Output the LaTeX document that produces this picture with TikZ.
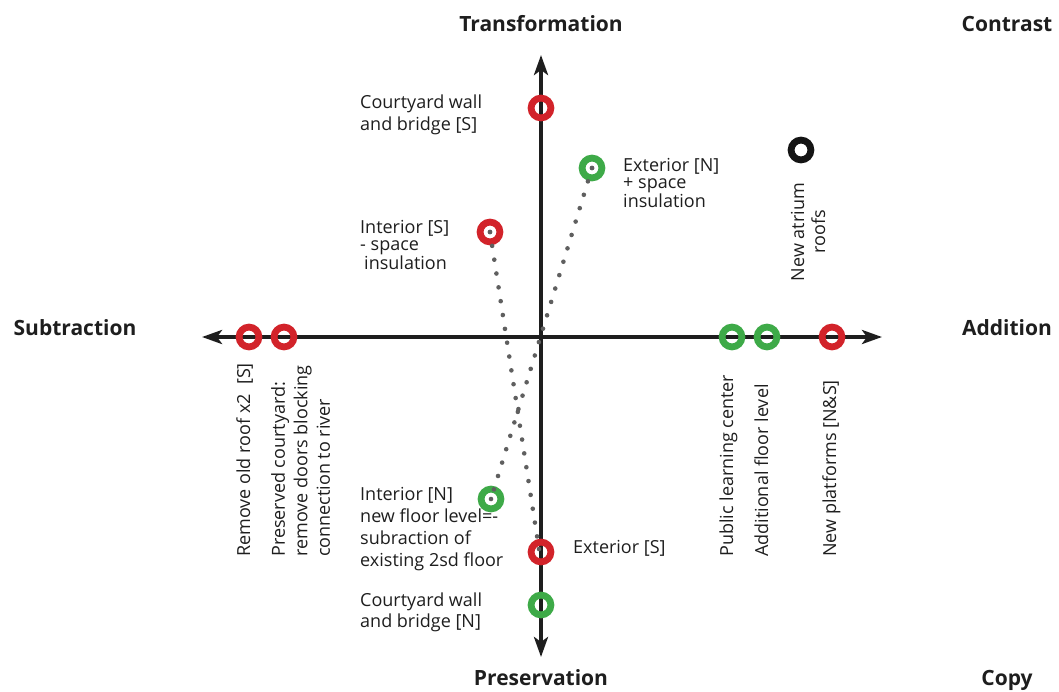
\documentclass[tikz,border=0pt]{standalone}
\usepackage{fontspec}
\setmainfont{Open Sans}
\usetikzlibrary{arrows.meta}
\definecolor{ringred}{RGB}{210,35,42}
\definecolor{ringgreen}{RGB}{62,170,72}
\definecolor{ringblack}{RGB}{20,20,20}
\definecolor{axisgrey}{RGB}{30,30,30}
\definecolor{dotgrey}{RGB}{95,95,95}
\definecolor{labelgrey}{RGB}{30,30,30}
\tikzset{
	ring/.style={circle, draw=#1, line width=6.8pt, minimum size=19.8pt, inner sep=0pt},
	hub/.style={circle, fill=dotgrey, minimum size=4.6pt, inner sep=0pt},
	axis/.style={line width=4.2pt, draw=axisgrey, {Stealth[length=20pt, width=14pt, inset=5pt]}-{Stealth[length=20pt, width=14pt, inset=5pt]}},
	trail/.style={dotgrey, line width=4.6pt, line cap=round, dash pattern=on 0pt off 14pt},
	lbl/.style={inner sep=0pt, text=labelgrey, font=\fontsize{18}{22}\selectfont, align=left},
	pole/.style={inner sep=0pt, text=labelgrey, font=\fontsize{21}{25}\bfseries\selectfont, anchor=base},
}

\begin{document}
\begin{tikzpicture}[x=1pt, y=-1pt]
	%%%%% START %%%%%
	\useasboundingbox (0,0) rectangle (1059,691);
	
	% axes
	\coordinate (wtip) at (202, 337);
	\coordinate (etip) at (882, 337);
	\coordinate (ntip) at (541, 55);
	\coordinate (stip) at (541, 657);
	\draw[axis] (wtip) -- (etip);
	\draw[axis] (ntip) -- (stip);
	
	\node[pole] (transf) at (541, 31) {Transformation};
	\node[pole] (preserv) at (541, 685) {Preservation};
	\node[pole] (subtr) at (75, 335) {Subtraction};
	\node[pole] (addit) at (1007, 335) {Addition};
	\node[pole] (contr) at (1007, 31) {Contrast};
	\node[pole] (copy) at (1007, 685) {Copy};
	
	% rings on the vertical axis
	\node[ring=ringred] (cwS) at (541, 108) {};
	\node[ring=ringred] (extS) at (541, 552) {};
	\node[ring=ringgreen] (cwN) at (541, 605) {};
	
	% rings on the horizontal axis
	\node[ring=ringred] (roofx) at (249, 337) {};
	\node[ring=ringred] (pcourt) at (284, 337) {};
	\node[ring=ringgreen] (plc) at (732, 337) {};
	\node[ring=ringgreen] (afl) at (767, 337) {};
	\node[ring=ringred] (platf) at (832, 337) {};
	
	% free rings
	\node[ring=ringgreen] (extN) at (592, 168) {};
	\node[ring=ringred] (intS) at (490, 232) {};
	\node[ring=ringgreen] (intN) at (491, 499) {};
	\node[ring=ringblack] (atrium) at (801, 150) {};
	
	% dotted trails
	\node[hub] (extNhub) at (extN) {};
	\node[hub] (intShub) at (intS) {};
	\node[hub] (intNhub) at (intN) {};
	\node[hub] (extShub) at (539, 549) {};
	\draw[trail] (intShub.center) -- (extShub.center);
	\draw[trail] (extNhub.center) -- (intNhub.center);
	
	% labels
	\node[lbl, anchor=north west] (cwSlbl) at (360, 95) {Courtyard wall\\and bridge [S]};
	\node[lbl, anchor=north west, font=\fontsize{18}{17.5}\selectfont] (extNlbl) at (623, 158) {Exterior [N]\\+ space\\insulation};
	\node[lbl, anchor=north west, font=\fontsize{18}{17.5}\selectfont] (intSlbl) at (360, 220) {Interior [S]\\- space\\\hspace{4pt}insulation};
	\node[lbl, anchor=north west] (intNlbl) at (360, 487) {Interior [N]\\new floor level=-\\subraction of\\existing 2sd floor};
	\node[lbl, anchor=base west] (extSlbl) at (573, 553) {Exterior [S]};
	\node[lbl, anchor=north west, font=\fontsize{18}{20.5}\selectfont] (cwNlbl) at (360, 593) {Courtyard wall\\and bridge [N]};
	\node[lbl, rotate=90, align=center, font=\fontsize{18}{21}\selectfont] (atriumlbl) at (808, 232) {New atrium\\roofs};
	
	\node[lbl, rotate=90, anchor=base west] (roofxlbl) at (250, 557) {Remove old roof x2\ \ [S]};
	\node[lbl, rotate=90, anchor=north west, font=\fontsize{18}{22.5}\selectfont] (pcourtlbl) at (271, 557) {Preserved courtyard:\\remove doors blocking\\connection to river};
	\node[lbl, rotate=90, anchor=base west] (plclbl) at (733, 557) {Public learning center};
	\node[lbl, rotate=90, anchor=base west] (afllbl) at (768, 557) {Additional floor level};
	\node[lbl, rotate=90, anchor=base west] (platflbl) at (836, 557) {New platforms [N\&S]};
	
	%%%%% END %%%%%
\end{tikzpicture}
\end{document}
